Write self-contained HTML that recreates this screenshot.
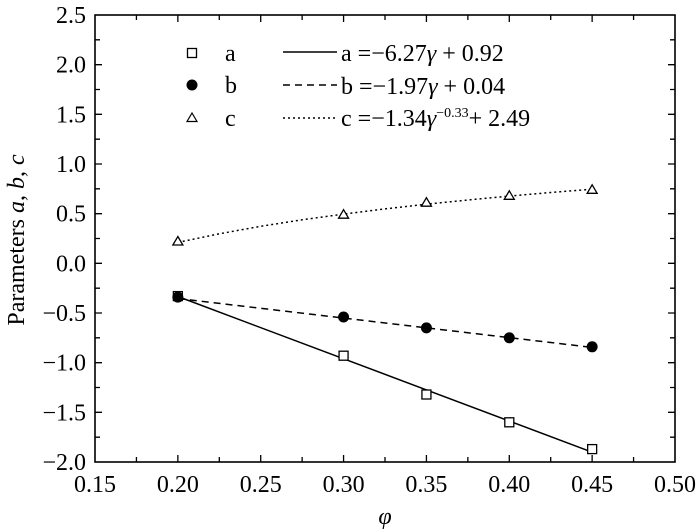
<!DOCTYPE html>
<html><head><style>body{margin:0;background:#fff}svg{display:block}svg text{font-family:"Liberation Serif","Times New Roman",serif !important}</style></head>
<body>
<svg width="700" height="532" viewBox="0 0 700 532">
<rect x="95" y="15" width="580" height="447" fill="none" stroke="#000" stroke-width="1.6"/>
<g stroke="#000" stroke-width="1.3">
<path d="M136.43,462v-5M177.86,462v-7M219.29,462v-5M260.71,462v-7M302.14,462v-5M343.57,462v-7M385,462v-5M426.43,462v-7M467.86,462v-5M509.29,462v-7M550.71,462v-5M592.14,462v-7M633.57,462v-5"/>
<path d="M136.43,15v5M177.86,15v7M219.29,15v5M260.71,15v7M302.14,15v5M343.57,15v7M385,15v5M426.43,15v7M467.86,15v5M509.29,15v7M550.71,15v5M592.14,15v7M633.57,15v5"/>
<path d="M95,39.83h5M95,64.67h7M95,89.5h5M95,114.33h7M95,139.17h5M95,164h7M95,188.83h5M95,213.67h7M95,238.5h5M95,263.33h7M95,288.17h5M95,313h7M95,337.83h5M95,362.67h7M95,387.5h5M95,412.33h7M95,437.17h5"/>
<path d="M675,39.83h-5M675,64.67h-7M675,89.5h-5M675,114.33h-7M675,139.17h-5M675,164h-7M675,188.83h-5M675,213.67h-7M675,238.5h-5M675,263.33h-7M675,288.17h-5M675,313h-7M675,337.83h-5M675,362.67h-7M675,387.5h-5M675,412.33h-7M675,437.17h-5"/>
</g>
<g font-size="24" text-anchor="end" style="font-family:'Liberation Serif',serif">
<text x="86" y="23">2.5</text><text x="86" y="72.7">2.0</text><text x="86" y="122.3">1.5</text><text x="86" y="172">1.0</text><text x="86" y="221.7">0.5</text><text x="86" y="271.3">0.0</text><text x="86" y="321">−0.5</text><text x="86" y="370.7">−1.0</text><text x="86" y="420.3">−1.5</text><text x="86" y="470">−2.0</text>
</g>
<g font-size="24" text-anchor="middle" style="font-family:'Liberation Serif',serif">
<text x="95" y="492">0.15</text><text x="177.86" y="492">0.20</text><text x="260.71" y="492">0.25</text><text x="343.57" y="492">0.30</text><text x="426.43" y="492">0.35</text><text x="509.29" y="492">0.40</text><text x="592.14" y="492">0.45</text><text x="675" y="492">0.50</text>
</g>
<g fill="none" stroke="#000" stroke-width="1.5">
<line x1="177.86" y1="296.5" x2="592.14" y2="452.2"/>
<line x1="177.86" y1="298.5" x2="592.14" y2="347.4" stroke-dasharray="7,5"/>
<path d="M177.86,242.4L219.29,233.8L260.71,226.3L302.14,219.8L343.57,214.1L385,208.9L426.43,204.2L467.86,200L509.29,196.1L550.71,192.5L592.14,189.2" stroke-dasharray="2,3"/>
</g>
<g fill="#fff" stroke="#000" stroke-width="1.3">
<rect x="173.36" y="291.6" width="9" height="9"/><rect x="339.07" y="351.2" width="9" height="9"/><rect x="421.93" y="390" width="9" height="9"/><rect x="504.79" y="417.8" width="9" height="9"/><rect x="587.64" y="444.6" width="9" height="9"/>
<polygon points="177.86,236.5 182.86,245 172.86,245"/><polygon points="343.57,209.7 348.57,218.2 338.57,218.2"/><polygon points="426.43,197.7 431.43,206.2 421.43,206.2"/><polygon points="509.29,190.8 514.29,199.3 504.29,199.3"/><polygon points="592.14,184.8 597.14,193.3 587.14,193.3"/>
</g>
<g fill="#000">
<circle cx="177.86" cy="297.1" r="5.5"/><circle cx="343.57" cy="317" r="5.5"/><circle cx="426.43" cy="327.9" r="5.5"/><circle cx="509.29" cy="337.8" r="5.5"/><circle cx="592.14" cy="346.8" r="5.5"/>
</g>
<text x="385" y="524" font-size="24" font-style="italic" text-anchor="middle" style="font-family:'Liberation Serif',serif">φ</text>
<text transform="translate(24,240) rotate(-90)" font-size="24" text-anchor="middle" style="font-family:'Liberation Serif',serif">Parameters <tspan font-style="italic">a</tspan>, <tspan font-style="italic">b</tspan>, <tspan font-style="italic">c</tspan></text>
<g font-size="24" style="font-family:'Liberation Serif',serif">
<rect x="187.5" y="48.5" width="9" height="9" fill="#fff" stroke="#000" stroke-width="1.3"/>
<text x="225" y="61">a</text>
<circle cx="192" cy="85" r="5.5" fill="#000"/>
<text x="225" y="93">b</text>
<polygon points="192,113 197,121.5 187,121.5" fill="#fff" stroke="#000" stroke-width="1.2"/>
<text x="225" y="126">c</text>
<line x1="283" y1="52" x2="337" y2="52" stroke="#000" stroke-width="1.5"/>
<line x1="283" y1="85" x2="337" y2="85" stroke="#000" stroke-width="1.5" stroke-dasharray="7,5"/>
<line x1="283" y1="118" x2="337" y2="118" stroke="#000" stroke-width="1.5" stroke-dasharray="2,3"/>
<text x="341" y="61">a =−6.27<tspan font-style="italic">γ</tspan> + 0.92</text>
<text x="341" y="94">b =−1.97<tspan font-style="italic">γ</tspan> + 0.04</text>
<text x="341" y="126">c =−1.34<tspan font-style="italic">γ</tspan><tspan font-size="14" dy="-9">−0.33</tspan><tspan dy="9">+ 2.49</tspan></text>
</g>
</svg>
</body></html>
